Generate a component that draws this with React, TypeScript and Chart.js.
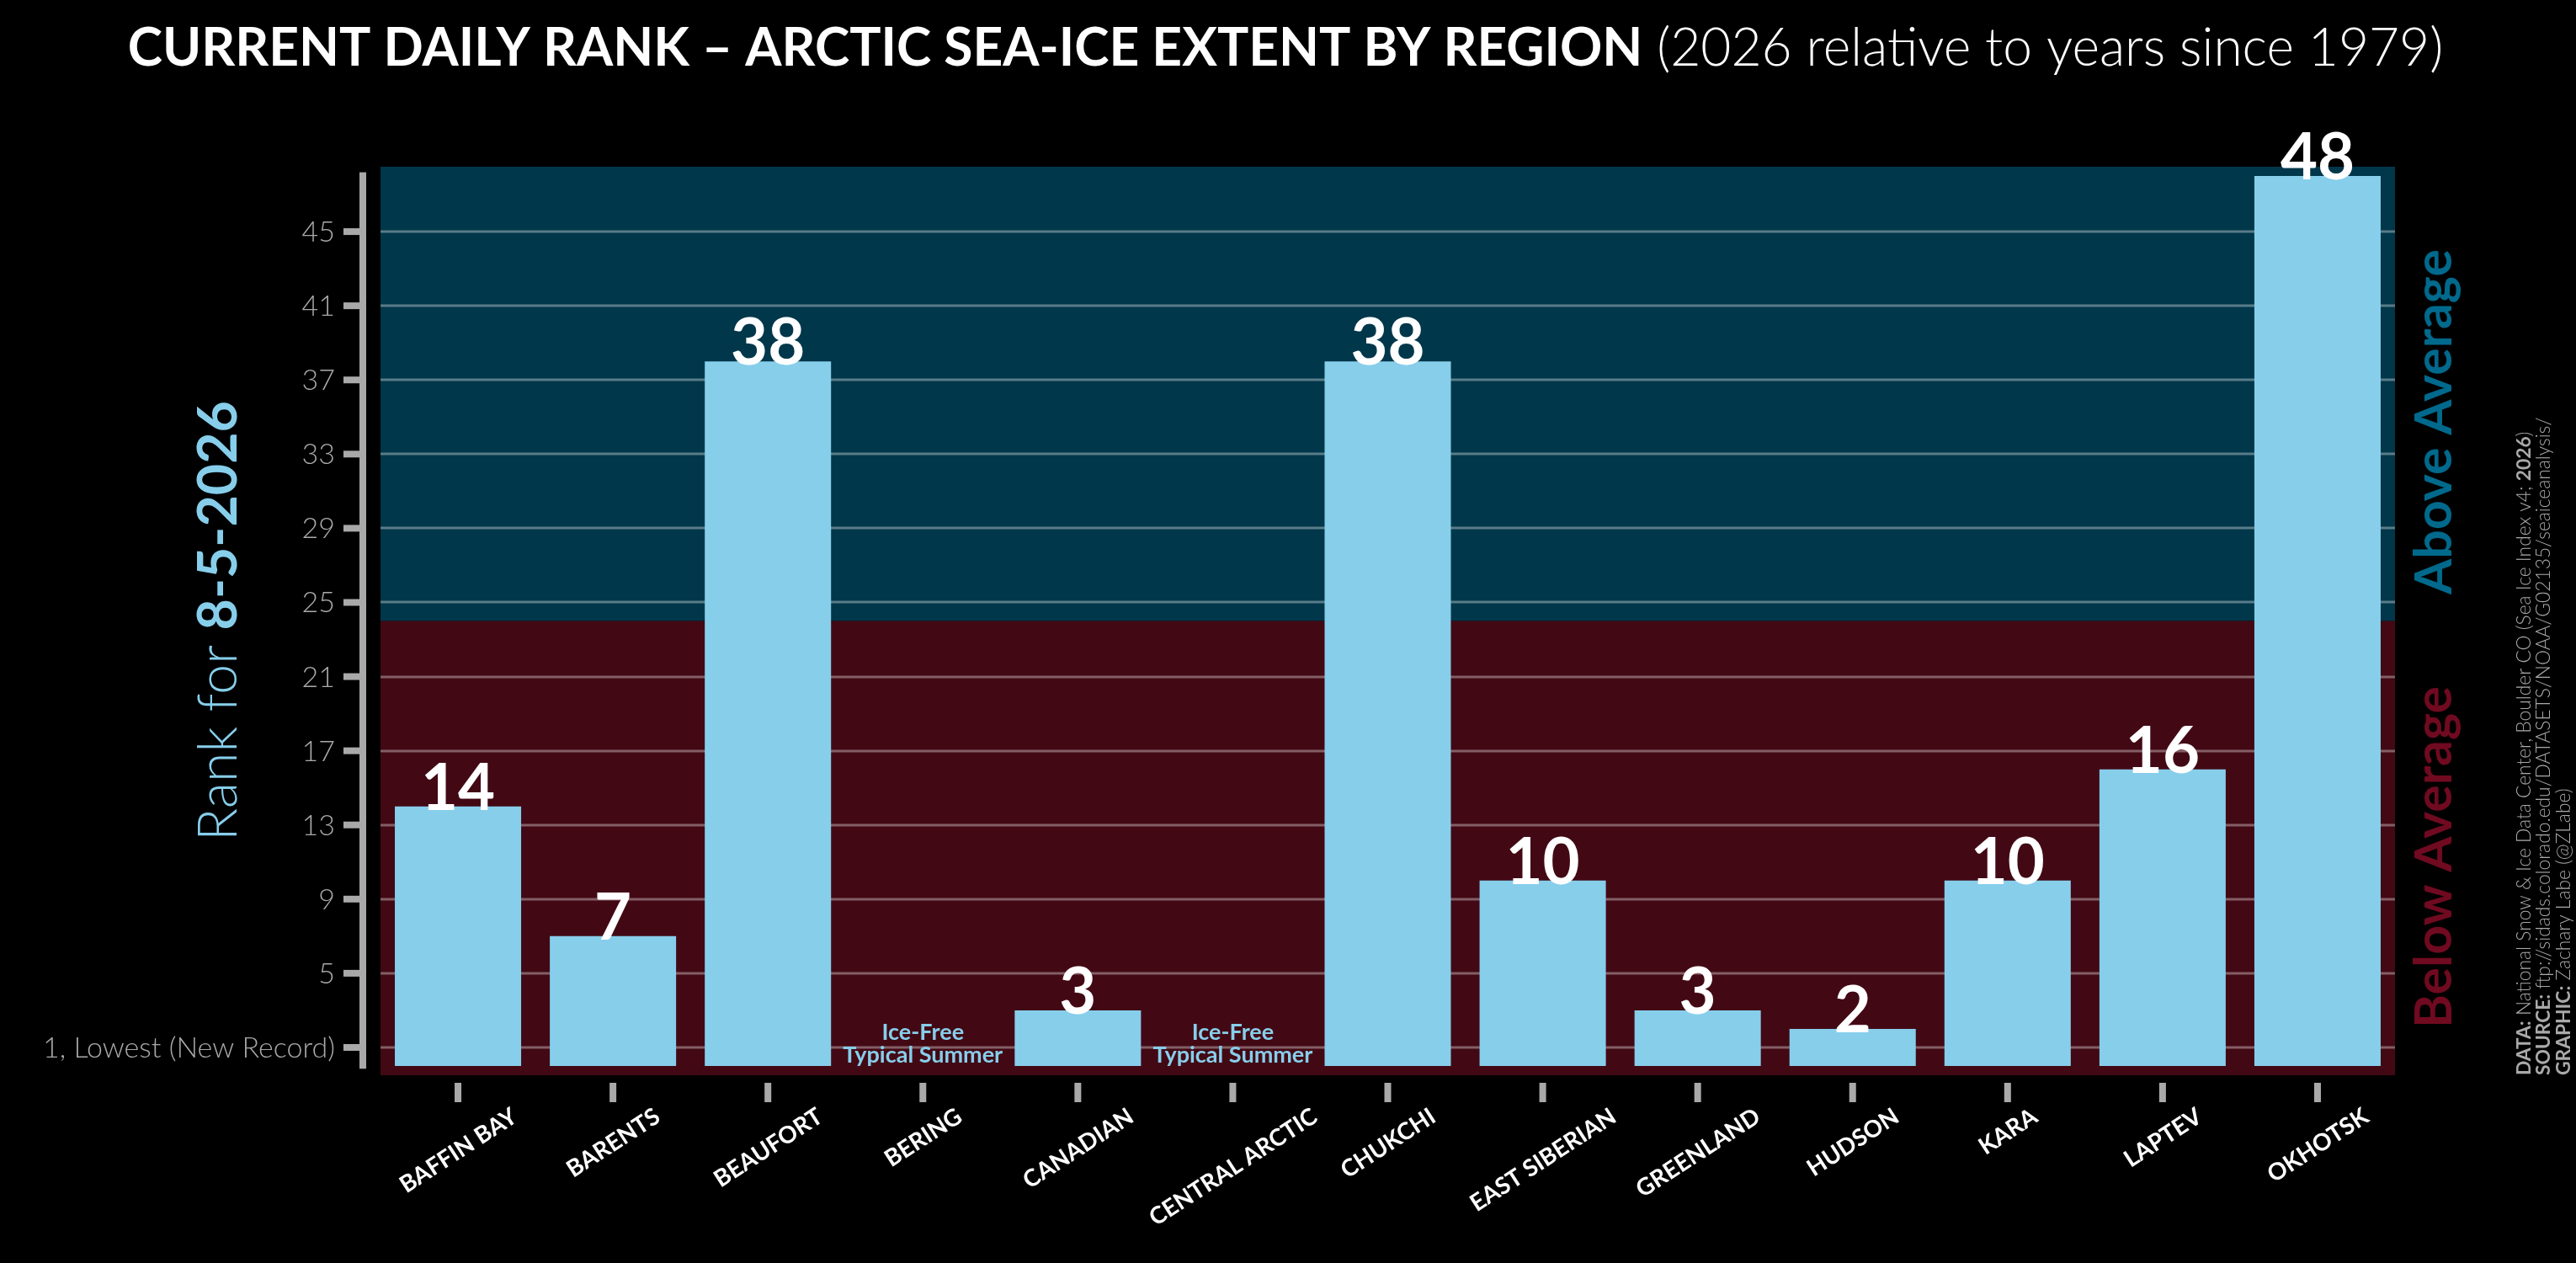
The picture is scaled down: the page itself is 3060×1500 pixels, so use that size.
import React, { useEffect, useRef } from "react";
import { Chart, registerables } from "chart.js";

Chart.register(...registerables);

// ---------------- data ----------------
const regions: string[] = [
  "BAFFIN BAY",
  "BARENTS",
  "BEAUFORT",
  "BERING",
  "CANADIAN",
  "CENTRAL ARCTIC",
  "CHUKCHI",
  "EAST SIBERIAN",
  "GREENLAND",
  "HUDSON",
  "KARA",
  "LAPTEV",
  "OKHOTSK",
];
const ranks: (number | null)[] = [14, 7, 38, null, 3, null, 38, 10, 3, 2, 10, 16, 48];
const iceFreeLines: string[] = ["Ice-Free", "Typical Summer"];
const yTickValues: number[] = [1, 5, 9, 13, 17, 21, 25, 29, 33, 37, 41, 45];
const yTickLabels: string[] = ["1, Lowest (New Record)", "5", "9", "13", "17", "21", "25", "29", "33", "37", "41", "45"];
const averageThreshold = 24;
const yMin = -0.5;
const yMax = 48.5;

const titleBold = "CURRENT DAILY RANK \u2013 ARCTIC SEA-ICE EXTENT BY REGION";
const titleLight = " (2026 relative to years since 1979)";
const yTitleLight = "Rank for ";
const yTitleBold = "8-5-2026";
const aboveText = "Above Average";
const belowText = "Below Average";
const creditLines: [string, number][][] = [
  [
    ["DATA:", 700],
    [" National Snow & Ice Data Center, Boulder CO (Sea Ice Index v4; ", 300],
    ["2026", 700],
    [")", 300],
  ],
  [
    ["SOURCE:", 700],
    [" ftp://sidads.colorado.edu/DATASETS/NOAA/G02135/seaiceanalysis/", 300],
  ],
  [
    ["GRAPHIC:", 700],
    [" Zachary Labe (@ZLabe)", 300],
  ],
];

// ---------------- style ----------------
const FAMILY = "Lato, 'Noto Sans', 'DejaVu Sans', sans-serif";
const BAR = "#87CEEB";
const BLUE_BG = "#01374A";
const RED_BG = "#420914";
const GRID = "rgba(255,255,255,0.35)";
const AXIS = "#a9a9a9";
const ABOVE = "#00698C";
const BELOW = "#700A20";

const f = (w: number, s: number) => `${w} ${s}px ${FAMILY}`;

function segWidth(ctx: CanvasRenderingContext2D, segs: [string, number][], size: number) {
  let t = 0;
  for (const [txt, w] of segs) {
    ctx.font = f(w, size);
    t += ctx.measureText(txt).width;
  }
  return t;
}

function fitSize(ctx: CanvasRenderingContext2D, segs: [string, number][], target: number) {
  const base = 100;
  return (base * target) / segWidth(ctx, segs, base);
}

function drawSegs(
  ctx: CanvasRenderingContext2D,
  segs: [string, number][],
  size: number,
  x: number,
  y: number,
  align: "left" | "center"
) {
  const total = segWidth(ctx, segs, size);
  let cur = align === "center" ? x - total / 2 : x;
  ctx.textAlign = "left";
  for (const [txt, w] of segs) {
    ctx.font = f(w, size);
    ctx.fillText(txt, cur, y);
    cur += ctx.measureText(txt).width;
  }
}

const decor = {
  id: "decor",
  beforeDraw(chart: any) {
    const { ctx, chartArea: ca } = chart;
    const y = chart.scales.y;
    ctx.save();
    ctx.fillStyle = "#000";
    ctx.fillRect(0, 0, chart.width, chart.height);
    const yT = y.getPixelForValue(averageThreshold);
    ctx.fillStyle = BLUE_BG;
    ctx.fillRect(ca.left, ca.top, ca.right - ca.left, yT - ca.top);
    ctx.fillStyle = RED_BG;
    ctx.fillRect(ca.left, yT, ca.right - ca.left, ca.bottom - yT);
    ctx.strokeStyle = GRID;
    ctx.lineWidth = 3;
    for (const v of yTickValues) {
      const py = Math.round(y.getPixelForValue(v));
      ctx.beginPath();
      ctx.moveTo(ca.left, py);
      ctx.lineTo(ca.right, py);
      ctx.stroke();
    }
    ctx.restore();
  },
  afterDatasetsDraw(chart: any) {
    const { ctx, chartArea: ca } = chart;
    const x = chart.scales.x;
    const y = chart.scales.y;
    const meta = chart.getDatasetMeta(0);
    ctx.save();

    // bar value labels
    ctx.fillStyle = "#fff";
    ctx.textAlign = "center";
    ctx.textBaseline = "alphabetic";
    ctx.font = f(700, 76);
    ranks.forEach((r, i) => {
      if (r == null) return;
      const el = meta.data[i];
      ctx.fillText(String(r), el.x, el.y + 4);
    });

    // ice-free notes
    const zeroPx = y.getPixelForValue(0);
    ctx.fillStyle = BAR;
    ctx.font = f(700, 27);
    ranks.forEach((r, i) => {
      if (r != null) return;
      const px = x.getPixelForValue(i);
      ctx.fillText(iceFreeLines[0], px, zeroPx - 31);
      ctx.fillText(iceFreeLines[1], px, zeroPx - 4);
    });

    // y spine + ticks
    const spineX = ca.left - 21;
    ctx.fillStyle = AXIS;
    const sTop = y.getPixelForValue(48.2);
    const sBot = y.getPixelForValue(-0.15);
    ctx.fillRect(spineX - 4, sTop, 8, sBot - sTop);
    const tickSize = Math.min(34, fitSize(ctx, [[yTickLabels[0], 300]], 348));
    ctx.font = f(300, tickSize);
    ctx.textAlign = "right";
    ctx.textBaseline = "middle";
    yTickValues.forEach((v, i) => {
      const py = y.getPixelForValue(v);
      ctx.fillRect(spineX - 23, py - 4, 23, 8);
      ctx.fillText(yTickLabels[i], spineX - 33, py + 1);
    });

    // x ticks + labels
    const ang = (33 * Math.PI) / 180;
    const xfs = 28;
    const capH = xfs * 0.72;
    regions.forEach((lab, i) => {
      const px = x.getPixelForValue(i);
      ctx.fillStyle = AXIS;
      ctx.fillRect(px - 4, ca.bottom + 9, 8, 23);
      ctx.fillStyle = "#fff";
      ctx.font = f(700, xfs);
      const w = ctx.measureText(lab).width;
      const bh = w * Math.sin(ang) + capH * Math.cos(ang);
      const cy = ca.bottom + 37 + bh / 2;
      ctx.save();
      ctx.translate(px, cy);
      ctx.rotate(-ang);
      ctx.textAlign = "center";
      ctx.textBaseline = "alphabetic";
      ctx.fillText(lab, 0, capH / 2);
      ctx.restore();
    });

    // title
    ctx.fillStyle = "#fff";
    ctx.textBaseline = "alphabetic";
    const tSegs: [string, number][] = [
      [titleBold, 700],
      [titleLight, 300],
    ];
    const tSize = fitSize(ctx, tSegs, 2751);
    drawSegs(ctx, tSegs, tSize, 1527, 78, "center");

    // y title
    const ySegs: [string, number][] = [
      [yTitleLight, 300],
      [yTitleBold, 700],
    ];
    const ySize = fitSize(ctx, ySegs, 523);
    ctx.save();
    ctx.translate(258 + ySize * 0.36, (ca.top + ca.bottom) / 2);
    ctx.rotate(-Math.PI / 2);
    ctx.fillStyle = BAR;
    drawSegs(ctx, ySegs, ySize, 0, 0, "center");
    ctx.restore();

    // above / below
    const aSize = fitSize(ctx, [[aboveText, 700]], 410);
    ctx.save();
    ctx.translate(2890 + aSize * 0.36, 501);
    ctx.rotate(-Math.PI / 2);
    ctx.fillStyle = ABOVE;
    drawSegs(ctx, [[aboveText, 700]], aSize, 0, 0, "center");
    ctx.restore();
    ctx.save();
    ctx.translate(2890 + aSize * 0.36, 1018);
    ctx.rotate(-Math.PI / 2);
    ctx.fillStyle = BELOW;
    drawSegs(ctx, [[belowText, 700]], aSize, 0, 0, "center");
    ctx.restore();

    // credits
    const cSize = Math.min(24, fitSize(ctx, creditLines[0], 765));
    const centers = [2998, 3021, 3045];
    creditLines.forEach((segs, i) => {
      ctx.save();
      ctx.translate(centers[i] + cSize * 0.36, ca.bottom);
      ctx.rotate(-Math.PI / 2);
      ctx.fillStyle = AXIS;
      drawSegs(ctx, segs, cSize, 0, 0, "left");
      ctx.restore();
    });

    ctx.restore();
  },
};

export default function App() {
  const ref = useRef<HTMLCanvasElement>(null);
  useEffect(() => {
    document.body.style.margin = "0";
    document.body.style.background = "#000";
    const chart = new Chart(ref.current as HTMLCanvasElement, {
      type: "bar",
      data: {
        labels: regions,
        datasets: [
          {
            data: ranks as any,
            backgroundColor: BAR,
            borderWidth: 0,
            barPercentage: 0.815,
            categoryPercentage: 1,
          },
        ],
      },
      options: {
        responsive: false,
        animation: false,
        devicePixelRatio: 1,
        events: [],
        layout: { padding: { left: 452, right: 215, top: 198, bottom: 223 } },
        plugins: { legend: { display: false }, tooltip: { enabled: false }, title: { display: false } },
        scales: {
          x: { type: "category", display: false, offset: true },
          y: { type: "linear", display: false, min: yMin, max: yMax },
        },
      },
      plugins: [decor],
    });
    return () => chart.destroy();
  }, []);
  return (
    <div style={{ position: "absolute", left: 0, top: 0, width: 3060, height: 1500, background: "#000" }}>
      <canvas ref={ref} width={3060} height={1500} style={{ display: "block", width: 3060, height: 1500 }} />
    </div>
  );
}
